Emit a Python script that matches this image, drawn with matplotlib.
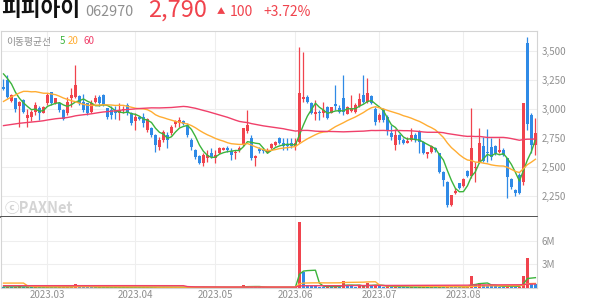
import numpy as np
import pandas as pd
import matplotlib
matplotlib.use("Agg")
import matplotlib.pyplot as plt
from matplotlib.ticker import FuncFormatter

plt.rcParams['font.family'] = ['Noto Sans CJK KR', 'DejaVu Sans']

# 일봉 (2023.02.14 ~ 2023.08.28)
opens = [3190, 3250, 3070, 3090, 3020, 3075, 2920, 2930, 2975, 3005,
         2960, 3045, 3140, 3045, 3050, 2990, 2960, 3090, 3105, 3110,
         3060, 3045, 2975, 3060, 3105, 3120, 3005, 2990, 2985, 2960,
         2985, 3030, 2960, 2890, 2930, 2930, 2815, 2830, 2775, 2670,
         2730, 2775, 2790, 2870, 2875, 2890, 2860, 2730, 2645, 2590,
         2530, 2572, 2615, 2575, 2615, 2645, 2665, 2635, 2615, 2640,
         2687, 2805, 2745, 2572, 2650, 2650, 2630, 2660, 2690, 2745,
         2702, 2693, 2702, 2680, 2716, 3085, 3104, 3046, 2955, 2975,
         2966, 3017, 2966, 3040, 3003, 3089, 2955, 2983, 2975, 3023,
         3118, 3060, 3109, 2994, 2903, 2989, 2931, 2788, 2687, 2773,
         2730, 2707, 2730, 2773, 2811, 2716, 2610, 2630, 2658, 2615,
         2457, 2371, 2170, 2276, 2357, 2334, 2466, 2420, 2486, 2535,
         2678, 2630, 2673, 2678, 2630, 2644, 2572, 2391, 2299, 2428,
         2371, 3564, 2945, 2687]
highs = [3260, 3290, 3130, 3095, 3065, 3080, 3000, 2985, 3060, 3020,
         3020, 3135, 3145, 3095, 3060, 2995, 3100, 3175, 3375, 3120,
         3130, 3050, 3075, 3120, 3120, 3130, 3010, 3020, 3020, 3045,
         3020, 3045, 2975, 2960, 2940, 2960, 2920, 2840, 2780, 2760,
         2815, 2800, 2860, 2905, 2930, 2900, 2875, 2745, 2650, 2600,
         2621, 2644, 2658, 2644, 2673, 2670, 2678, 2658, 2644, 2678,
         2835, 2989, 2773, 2600, 2673, 2665, 2658, 2707, 2725, 2753,
         2745, 2745, 2745, 2745, 3535, 3491, 3118, 3060, 3075, 2989,
         3060, 3025, 3017, 3204, 3032, 3290, 3025, 3118, 3046, 3132,
         3290, 3262, 3118, 3017, 2960, 3003, 2946, 2860, 2822, 2780,
         2745, 2759, 2831, 2788, 2817, 2720, 2630, 2687, 2667, 2620,
         2460, 2375, 2260, 2314, 2362, 2400, 2470, 3003, 2543, 2831,
         2759, 2822, 2745, 2687, 2745, 2658, 2578, 2400, 2305, 2443,
         3050, 3615, 2960, 2917]
lows = [3160, 3090, 3060, 2975, 2845, 2965, 2845, 2890, 2945, 2900,
        2960, 3030, 3030, 3040, 2975, 2900, 2945, 3015, 3090, 3030,
        2975, 2945, 2960, 3045, 3020, 3020, 2915, 2915, 2915, 2905,
        2960, 2945, 2860, 2815, 2905, 2845, 2800, 2760, 2630, 2645,
        2715, 2660, 2775, 2845, 2845, 2860, 2760, 2645, 2570, 2520,
        2506, 2543, 2572, 2529, 2610, 2640, 2630, 2558, 2564, 2630,
        2680, 2788, 2558, 2506, 2615, 2615, 2615, 2650, 2680, 2696,
        2644, 2644, 2658, 2644, 2700, 3060, 3046, 2954, 2903, 2903,
        2931, 2910, 2960, 2989, 2960, 2946, 2950, 2975, 2960, 3017,
        3046, 3046, 3040, 2860, 2888, 2888, 2773, 2730, 2644, 2696,
        2696, 2701, 2725, 2716, 2615, 2610, 2572, 2615, 2630, 2443,
        2334, 2150, 2164, 2265, 2305, 2328, 2415, 2400, 2371, 2529,
        2543, 2543, 2558, 2601, 2615, 2592, 2228, 2305, 2247, 2265,
        2342, 2815, 2615, 2601]
closes = [3170, 3100, 3115, 3000, 3060, 2975, 2945, 2975, 3030, 2960,
          3015, 3120, 3045, 3090, 2990, 2915, 3060, 3120, 3205, 3045,
          2990, 2960, 3045, 3090, 3045, 3030, 2930, 2945, 2960, 2990,
          3000, 2960, 2875, 2930, 2910, 2875, 2915, 2775, 2685, 2730,
          2800, 2730, 2845, 2890, 2900, 2870, 2775, 2670, 2585, 2530,
          2600, 2601, 2580, 2600, 2658, 2665, 2645, 2600, 2630, 2658,
          2830, 2860, 2572, 2592, 2635, 2635, 2645, 2696, 2716, 2702,
          2680, 2675, 2680, 2702, 3138, 3105, 3060, 2960, 2975, 2960,
          2989, 2917, 3012, 3023, 2975, 2975, 3017, 3003, 3032, 3081,
          3060, 3132, 3046, 2888, 2946, 2903, 2816, 2753, 2773, 2730,
          2707, 2724, 2773, 2730, 2716, 2615, 2627, 2678, 2640, 2457,
          2385, 2170, 2256, 2293, 2314, 2391, 2420, 2658, 2500, 2707,
          2552, 2615, 2586, 2615, 2644, 2601, 2408, 2328, 2276, 2270,
          3046, 2870, 2690, 2790]
# 거래량 (백만 주)
volumes = [0.08, 0.12, 0.06, 0.09, 0.15, 0.07, 0.10, 0.05, 0.08, 0.06,
           0.05, 0.12, 0.09, 0.05, 0.07, 0.08, 0.10, 0.20, 0.45, 0.15,
           0.10, 0.07, 0.06, 0.05, 0.08, 0.06, 0.07, 0.05, 0.04, 0.06,
           0.04, 0.05, 0.07, 0.06, 0.03, 0.05, 0.06, 0.05, 0.08, 0.06,
           0.05, 0.04, 0.05, 0.04, 0.05, 0.03, 0.04, 0.06, 0.08, 0.07,
           0.05, 0.04, 0.03, 0.04, 0.05, 0.03, 0.02, 0.04, 0.03, 0.04,
           0.30, 0.20, 0.10, 0.05, 0.04, 0.03, 0.03, 0.04, 0.05, 0.04,
           0.03, 0.03, 0.04, 0.05, 8.40, 2.05, 0.35, 0.20, 0.15, 0.12,
           0.10, 0.15, 0.12, 0.20, 0.10, 0.87, 0.30, 0.15, 0.12, 0.20,
           0.25, 0.65, 0.20, 0.30, 0.15, 0.12, 0.20, 0.10, 0.12, 0.08,
           0.07, 0.06, 0.08, 0.06, 0.10, 0.12, 0.06, 0.07, 0.05, 0.15,
           0.12, 0.25, 0.15, 0.08, 0.06, 0.07, 0.08, 1.45, 0.35, 0.60,
           0.30, 0.25, 0.20, 0.15, 0.12, 0.10, 0.30, 0.20, 0.10, 0.12,
           1.55, 3.85, 0.45, 0.40]

# 화면 이전 구간 (이동평균선 계산용)
pre_closes = [2780, 2760, 2770, 2750, 2740, 2760, 2775, 2790, 2770, 2750,
              2735, 2745, 2760, 2780, 2765, 2750, 2740, 2730, 2745, 2760,
              2755, 2740, 2725, 2735, 2750, 2765, 2750, 2740, 2730, 2745,
              2760, 2750, 2740, 2735, 2750, 2745, 2730, 2720, 2735, 2740,
              2710, 2700, 2690, 2700, 2710,
              2950, 3050, 3000, 3100, 3150, 3120, 3180, 3200, 3260, 3230,
              3300, 3350, 3360, 3320]
pre_volumes = [0.08] * 45 + [7.0, 1.5, 0.8, 0.30, 0.25, 0.20, 0.15, 0.20,
                             0.15, 0.10, 0.12, 0.10, 0.09, 0.10]

month_pos = [11, 33, 53, 73, 94, 115]
month_labels = ['2023.03', '2023.04', '2023.05', '2023.06', '2023.07', '2023.08']
price_ticks = [2250, 2500, 2750, 3000, 3250, 3500]
vol_ticks = [3, 6]

RED = '#f0434d'
BLUE = '#2f8ae6'
MA_COLORS = {5: '#3cb43c', 20: '#ffad33', 60: '#f0406a'}

o = np.array(opens, float)
h = np.array(highs, float)
l = np.array(lows, float)
c = np.array(closes, float)
v = np.array(volumes, float)
x = np.arange(len(c))
npre = len(pre_closes)

all_c = pd.Series(pre_closes + closes, dtype=float)
all_v = pd.Series(pre_volumes + volumes, dtype=float)

fig = plt.figure(figsize=(5.94, 3.04), dpi=100)
W, H = 594, 304
ax1 = fig.add_axes([1 / W, 1 - 217 / H, 536 / W, 186 / H])
ax2 = fig.add_axes([1 / W, 1 - 287.6 / H, 536 / W, 70.6 / H])

# 캔들
col = np.where(c >= o, RED, BLUE)
ax1.vlines(x, l, h, colors=col, linewidth=0.9, zorder=2)
body = np.maximum(np.abs(c - o), 8)
ax1.bar(x, body, bottom=np.minimum(o, c), width=0.75, color=col,
        linewidth=0, zorder=3)
for n, mc in MA_COLORS.items():
    ma = all_c.rolling(n).mean().values[npre:]
    ax1.plot(x, ma, color=mc, linewidth=1.0, zorder=4)

# 거래량
prev_v = np.concatenate([[pre_volumes[-1]], v[:-1]])
vcol = np.where(v >= prev_v, RED, BLUE)
ax2.bar(x, v, width=0.75, color=vcol, linewidth=0, zorder=3)
for n, mc in MA_COLORS.items():
    ma = all_v.rolling(n).mean().values[npre:]
    ax2.plot(x, ma, color=mc, linewidth=1.0, zorder=4)

for ax in (ax1, ax2):
    ax.set_xlim(-0.625, 133.4)
    ax.set_xticks(month_pos)
    ax.yaxis.tick_right()
    ax.tick_params(axis='both', length=0, labelsize=7, labelcolor='#8f8f8f')
    ax.tick_params(axis='y', pad=3.5)
    ax.grid(True, color='#eeeeee', linewidth=0.8)
    ax.set_axisbelow(True)
    for s in ax.spines.values():
        s.set_color('#d4d4d4')
        s.set_linewidth(0.8)

ax1.set_ylim(2066, 3670)
ax1.set_yticks(price_ticks)
ax1.yaxis.set_major_formatter(FuncFormatter(lambda val, p: f'{int(val):,}'))
ax1.tick_params(axis='x', labelbottom=False)
ax1.spines['bottom'].set_color('#333333')
ax1.spines['bottom'].set_linewidth(1.2)

ax2.set_ylim(0, 9.05)
ax2.set_yticks(vol_ticks)
ax2.yaxis.set_major_formatter(FuncFormatter(lambda val, p: f'{int(val)}M'))
ax2.set_xticklabels(month_labels)
ax2.tick_params(axis='x', pad=2)
ax2.spines['top'].set_visible(False)

# 제목
def ftext(px, py, s, **kw):
    fig.text(px / W, 1 - py / H, s, va='baseline', ha='left', **kw)

ftext(1, 16, '피피아이', fontsize=15.5, fontweight='bold', color='#111111')
ftext(85, 16, '062970', fontsize=10.4, color='#8f8f8f')
ftext(148, 16.5, '2,790', fontsize=17, color=RED)
ftext(216.5, 14.5, '▲', fontsize=6, color=RED)
ftext(230, 16, '100', fontsize=10, color=RED)
ftext(263, 16, '+3.72%', fontsize=10, color=RED)

ftext(6.5, 44.5, '이동평균선', fontsize=7, color='#8f8f8f')
ftext(59.5, 44.5, '5', fontsize=7, color=MA_COLORS[5])
ftext(68, 44.5, '20', fontsize=7, color=MA_COLORS[20])
ftext(83, 44.5, '60', fontsize=7, color=MA_COLORS[60])

ftext(5, 213, 'ⓒPAXNet', fontsize=10.5, fontweight='bold', color='#d4d4d4')

plt.savefig('out.png', dpi=100)
